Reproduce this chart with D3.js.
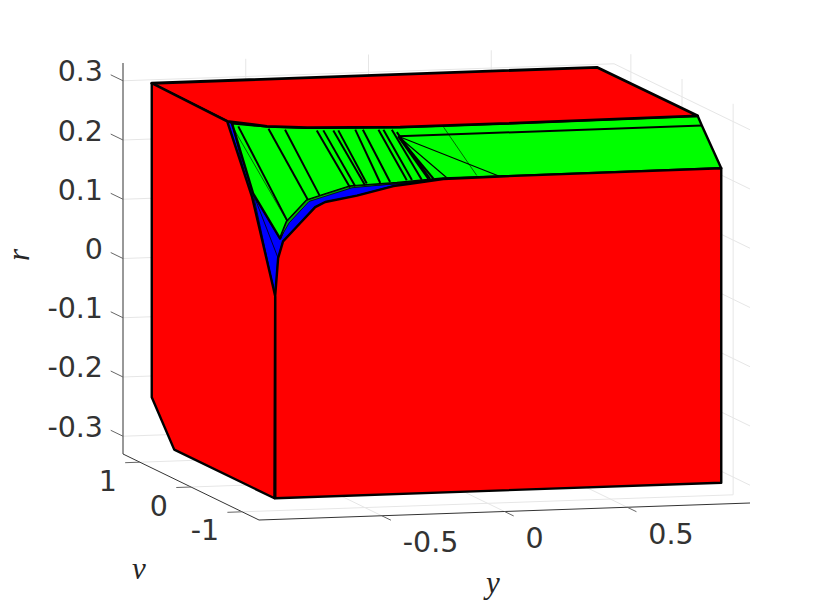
<!DOCTYPE html>
<html>
<head>
<meta charset="utf-8">
<script src="https://cdn.jsdelivr.net/npm/d3@7"></script>
<style>
    html, body { margin: 0; padding: 0; background: #fff; }
    svg { display: block; }
    .tickLabel { font-family: "DejaVu Sans", sans-serif; font-size: 28.5px; fill: #333; }
    .axisLabel { font-family: "Liberation Serif", serif; font-style: italic; font-size: 31px; fill: #262626; }
</style>
</head>
<body>
<div id="graph"></div>
<script>
// Tick values
var rTicks = [0.3, 0.2, 0.1, 0, -0.1, -0.2, -0.3];
var vTicks = [1, 0, -1];
var yTicks = [-0.5, 0, 0.5];

// Axis limits
var yLim = [-1, 1];
var vLim = [-1.33, 1.33];
var rLim = [-0.33, 0.33];

// Every vertex is [y, v, r]
var topFace = [
    [-0.91, 1.2, 0.3], [0.907, 1.218, 0.3], [0.91, -0.738, 0.3], [0.098, -0.775, 0.3],
    [-0.309, -0.773, 0.3], [-0.667, -0.675, 0.3], [-0.81, -0.573, 0.3], [-0.922, -0.333, 0.3]
];

var leftFace = [
    [-0.91, 1.2, 0.3], [-0.91, 1.2, -0.23], [-0.91, 0.76, -0.3], [-0.91, -1.2, -0.3],
    [-0.907, -1.2, 0.041], [-0.91, -1.175, 0.055], [-0.91, -0.763, 0.19], [-0.922, -0.333, 0.3]
];

var frontFace = [
    [-0.907, -1.2, -0.3], [0.91, -1.2, -0.3], [0.91, -1.2, 0.231], [0.009, -1.2, 0.23],
    [-0.222, -1.2, 0.229], [-0.357, -1.2, 0.223], [-0.425, -1.2, 0.22], [-0.574, -1.2, 0.206],
    [-0.703, -1.2, 0.197], [-0.744, -1.2, 0.189], [-0.819, -1.2, 0.157], [-0.875, -1.2, 0.133],
    [-0.895, -1.2, 0.105], [-0.907, -1.2, 0.041]
];

var blueFace = [
    [-0.922, -0.333, 0.3], [-0.91, -0.37, 0.298], [-0.91, -0.782, 0.197], [-0.887, -1.2, 0.138],
    [-0.86, -1.2, 0.166], [-0.778, -1.2, 0.201], [-0.602, -1.2, 0.222], [-0.222, -1.2, 0.23],
    [-0.357, -1.2, 0.223], [-0.425, -1.2, 0.22], [-0.574, -1.2, 0.206], [-0.703, -1.2, 0.197],
    [-0.744, -1.2, 0.189], [-0.819, -1.2, 0.157], [-0.875, -1.2, 0.133], [-0.895, -1.2, 0.105],
    [-0.907, -1.2, 0.041], [-0.91, -1.175, 0.055], [-0.91, -0.763, 0.19]
];

var greenFace = [
    [-0.91, -0.37, 0.298], [-0.81, -0.573, 0.3], [-0.667, -0.675, 0.3], [-0.309, -0.773, 0.3],
    [0.098, -0.775, 0.3], [0.91, -0.738, 0.3], [0.91, -0.82, 0.287], [0.91, -1.2, 0.231],
    [0.009, -1.2, 0.23], [-0.222, -1.2, 0.23], [-0.411, -1.2, 0.225], [-0.602, -1.2, 0.222],
    [-0.704, -1.2, 0.21], [-0.778, -1.2, 0.201], [-0.86, -1.2, 0.166], [-0.887, -1.2, 0.138],
    [-0.91, -0.782, 0.197]
];

// Thin green rim under the main green surface
var greenRim = [
    [-0.887, -1.2, 0.138], [-0.85, -1.2, 0.164], [-0.769, -1.2, 0.199], [-0.594, -1.2, 0.2195],
    [-0.398, -1.2, 0.2245], [-0.222, -1.2, 0.23], [-0.411, -1.2, 0.225], [-0.602, -1.2, 0.222],
    [-0.704, -1.2, 0.21], [-0.778, -1.2, 0.201], [-0.86, -1.2, 0.166]
];

// Partition edges crossing the green surface
var greenEdges = [
    [[-0.919, -0.536, 0.3], [-0.857, -1.2, 0.167]],
    [[-0.822, -0.661, 0.3], [-0.774, -1.2, 0.202]],
    [[-0.767, -0.721, 0.3], [-0.727, -1.2, 0.209]],
    [[-0.652, -0.789, 0.3], [-0.602, -1.2, 0.22]],
    [[-0.627, -0.797, 0.3], [-0.581, -1.2, 0.222]],
    [[-0.589, -0.81, 0.3], [-0.541, -1.2, 0.223]],
    [[-0.57, -0.816, 0.3], [-0.534, -1.2, 0.226]],
    [[-0.5, -0.812, 0.3], [-0.479, -1.2, 0.226]],
    [[-0.471, -0.822, 0.3], [-0.439, -1.2, 0.227]],
    [[-0.412, -0.843, 0.3], [-0.371, -1.2, 0.229]],
    [[-0.393, -0.849, 0.3], [-0.35, -1.2, 0.229]],
    [[-0.361, -0.86, 0.3], [-0.31, -1.2, 0.229]],
    [[-0.361, -0.957, 0.3], [-0.276, -1.2, 0.23]],
    [[-0.333, -0.85, 0.288], [-0.283, -1.2, 0.23]],
    [[-0.333, -0.85, 0.288], [-0.262, -1.2, 0.23]],
    [[-0.333, -0.85, 0.288], [0.91, -0.82, 0.287]]
];

var fanEdges = [
    [[-0.333, -0.85, 0.288], [-0.208, -1.2, 0.231]],
    [[-0.333, -0.85, 0.288], [0.009, -1.2, 0.23]]
];

var thinEdges = [
    [[-0.144, -0.829, 0.3], [-0.086, -1.2, 0.233]],
    [[-0.936, -0.49, 0.3], [-0.86, -1.2, 0.168]]
];

// Partition edges on the blue sliver
var blueEdges = [
    [[-0.91, -0.37, 0.298], [-0.907, -1.2, 0.041]],
    [[-0.91, -0.782, 0.197], [-0.907, -1.2, 0.041]],
    [[-0.91, -0.782, 0.197], [-0.895, -1.2, 0.105]]
];

var frontSeam = [[-0.907, -1.2, 0.041], [-0.907, -1.2, -0.3]];

// Projection of the box onto the screen
var width = 830, height = 602;

var xFromY = d3.scaleLinear ().domain (yLim).range ([0, 491]);
var xFromV = d3.scaleLinear ().domain (vLim).range ([259, 123]);
var pyFromY = d3.scaleLinear ().domain (yLim).range ([0, -17]);
var pyFromV = d3.scaleLinear ().domain (vLim).range ([520, 454]);
var pyFromR = d3.scaleLinear ().domain (rLim).range ([0, -391]);

function project (p)
{
    return [xFromY (p[0]) + xFromV (p[1]), pyFromY (p[0]) + pyFromV (p[1]) + pyFromR (p[2])];
}

var line3d = d3.line ()
               .x (function (d) { return project (d)[0]; })
               .y (function (d) { return project (d)[1]; });

var svg = d3.select ('#graph')
            .append ('svg')
            .attr ('width', width)
            .attr ('height', height);

function drawLine (points, color, strokeWidth)
{
    svg.append ('path')
       .attr ('d', line3d (points))
       .attr ('fill', 'none')
       .attr ('stroke', color)
       .attr ('stroke-width', strokeWidth);
}

function drawFace (points, color, strokeWidth)
{
    svg.append ('path')
       .attr ('d', line3d (points) + 'Z')
       .attr ('fill', color)
       .attr ('stroke', '#000')
       .attr ('stroke-width', strokeWidth)
       .attr ('stroke-linejoin', 'round');
}

// Grid on the floor and the two back walls
var gridColor = '#e6e6e6';

rTicks.forEach (function (r)
{
    drawLine ([[yLim[0], vLim[1], r], [yLim[1], vLim[1], r], [yLim[1], vLim[0], r]], gridColor, 1);
});

yTicks.forEach (function (y)
{
    drawLine ([[y, vLim[0], rLim[0]], [y, vLim[1], rLim[0]], [y, vLim[1], rLim[1]]], gridColor, 1);
});

vTicks.forEach (function (v)
{
    drawLine ([[yLim[0], v, rLim[0]], [yLim[1], v, rLim[0]], [yLim[1], v, rLim[1]]], gridColor, 1);
});

// Axis lines
drawLine ([[yLim[0], vLim[1], rLim[1]], [yLim[0], vLim[1], rLim[0]], [yLim[0], vLim[0], rLim[0]], [yLim[1], vLim[0], rLim[0]]], '#333', 1);

// Tick marks
var tickColor = '#666';

rTicks.forEach (function (r)
{
    drawLine ([[yLim[0], vLim[1], r], [yLim[0], vLim[1] + 0.24, r]], tickColor, 1);
});

vTicks.forEach (function (v)
{
    drawLine ([[yLim[0], v, rLim[0]], [yLim[0] - 0.06, v, rLim[0]]], tickColor, 1);
});

yTicks.forEach (function (y)
{
    drawLine ([[y, vLim[0], rLim[0]], [y, vLim[0] - 0.18, rLim[0]]], tickColor, 1);
});

// Tick labels
svg.selectAll ('.rLabel')
   .data (rTicks)
   .enter ()
   .append ('text')
   .attr ('class', 'tickLabel rLabel')
   .attr ('text-anchor', 'end')
   .attr ('dominant-baseline', 'central')
   .attr ('x', 103)
   .attr ('y', function (d) { return project ([yLim[0], vLim[1], d])[1] - 9; })
   .text (function (d) { return d; });

svg.selectAll ('.vLabel')
   .data (vTicks)
   .enter ()
   .append ('text')
   .attr ('class', 'tickLabel vLabel')
   .attr ('text-anchor', 'end')
   .attr ('dominant-baseline', 'central')
   .attr ('x', function (d) { return project ([yLim[0], d, rLim[0]])[0] - 23; })
   .attr ('y', function (d) { return project ([yLim[0], d, rLim[0]])[1] + 19; })
   .text (function (d) { return d; });

svg.selectAll ('.yLabel')
   .data (yTicks)
   .enter ()
   .append ('text')
   .attr ('class', 'tickLabel yLabel')
   .attr ('text-anchor', 'start')
   .attr ('dominant-baseline', 'central')
   .attr ('x', function (d) { return project ([d, vLim[0], rLim[0]])[0] + 21; })
   .attr ('y', function (d) { return project ([d, vLim[0], rLim[0]])[1] + 27; })
   .text (function (d) { return d; });

// Axis labels...
svg.append ('text')
   .attr ('class', 'axisLabel')
   .attr ('text-anchor', 'middle')
   .attr ('transform', 'translate(29,255) rotate(-90)')
   .text ('r');

svg.append ('text')
   .attr ('class', 'axisLabel')
   .attr ('text-anchor', 'middle')
   .attr ('x', 139)
   .attr ('y', 579)
   .text ('v');

svg.append ('text')
   .attr ('class', 'axisLabel')
   .attr ('text-anchor', 'middle')
   .attr ('x', 493)
   .attr ('y', 593)
   .text ('y');

// And add the polytope...
drawFace (blueFace, '#00f', 1.5);
drawFace (greenFace, '#0f0', 2.4);
drawFace (greenRim, '#0a0', 0.8);

greenEdges.forEach (function (e) { drawLine (e, '#000', 2); });
fanEdges.forEach (function (e) { drawLine (e, '#000', 1.2); });
thinEdges.forEach (function (e) { drawLine (e, '#000', 0.6); });
blueEdges.forEach (function (e) { drawLine (e, '#000', 0.8); });

drawFace (topFace, '#f00', 2.8);
drawFace (leftFace, '#f00', 2.4);
drawFace (frontFace, '#f00', 2.4);
drawLine (frontSeam, '#000', 2);
</script>
</body>
</html>
